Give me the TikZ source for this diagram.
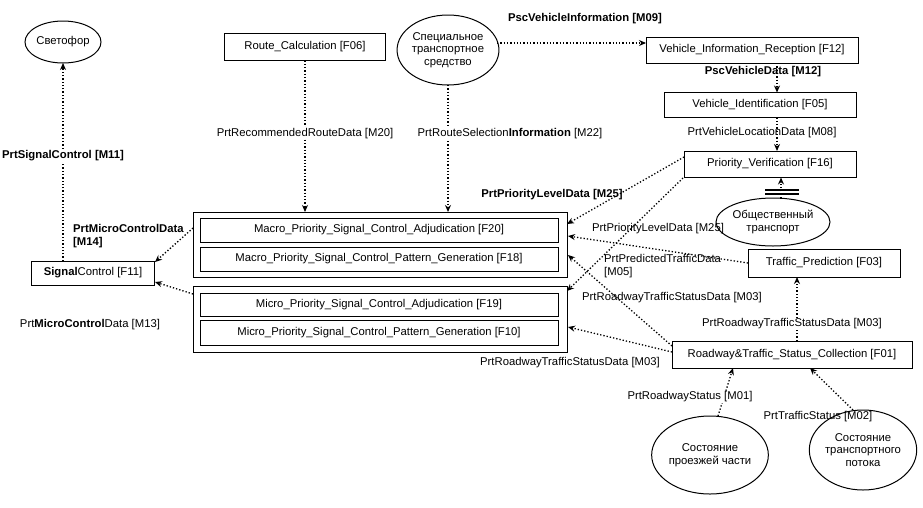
\documentclass[tikz,border=0pt]{standalone}
\usepackage{fontspec}
\setmainfont{Liberation Sans}
\usetikzlibrary{shapes.geometric,arrows.meta}
\begin{document}
\begin{tikzpicture}[x=1pt,y=-1pt,
  every node/.style={font=\fontsize{11.3}{12.5}\selectfont},
  box/.style={draw,line width=1pt,minimum height=25pt,inner sep=1pt},
  ell/.style={draw,line width=1pt,ellipse,align=center,inner sep=0pt},
  fl/.style={line width=1.3pt,dotted,-{Stealth[length=7pt,width=6pt]}},
  lab/.style={fill=white,inner sep=1pt},
  labn/.style={inner sep=1pt}]
\useasboundingbox (0,0) rectangle (923,507);
% nodes
\node[ell,minimum width=76pt,minimum height=42pt] (svet) at (63,42) {Светофор};
\node[box,minimum width=161pt,minimum height=27pt] (route) at (305,47) {Route\_Calculation [F06]};
\node[ell,minimum width=92pt,minimum height=70pt] (spec) at (448,50) {Специальное\\транспортное\\средство};
\node[box,minimum width=212pt,minimum height=26pt] (vir) at (752,50) {Vehicle\_Information\_Reception [F12]};
\node[box,minimum width=192pt] (vi) at (760,105) {Vehicle\_Identification [F05]};
\node[box,minimum width=172pt,minimum height=26pt] (pv) at (770,164) {Priority\_Verification [F16]};
\node[ell,minimum width=102pt,minimum height=48pt] (obs) at (773,222) {Общественный\\транспорт};
\node[draw,line width=1pt,minimum width=374pt,minimum height=65pt,inner sep=0] (macro) at (380,244.5) {};
\node[box,minimum width=358pt,minimum height=24pt] (f20) at (379,230) {Macro\_Priority\_Signal\_Control\_Adjudication [F20]};
\node[box,minimum width=358pt,minimum height=24pt] (f18) at (379,259) {Macro\_Priority\_Signal\_Control\_Pattern\_Generation [F18]};
\node[draw,line width=1pt,minimum width=374pt,minimum height=66pt,inner sep=0] (micro) at (380,319) {};
\node[box,minimum width=358pt,minimum height=23pt] (f19) at (379,304.5) {Micro\_Priority\_Signal\_Control\_Adjudication [F19]};
\node[box,minimum width=358pt,minimum height=25pt] (f10) at (379,332.5) {Micro\_Priority\_Signal\_Control\_Pattern\_Generation [F10]};
\node[box,minimum width=123pt,minimum height=24pt] (sc) at (93,273) {\textbf{Signal}Control [F11]};
\node[box,minimum width=152pt,minimum height=28pt] (tp) at (824,263) {Traffic\_Prediction [F03]};
\node[box,minimum width=240pt,minimum height=27pt] (rt) at (792,354.5) {Roadway\&Traffic\_Status\_Collection [F01]};
\node[ell,minimum width=88pt,minimum height=78pt] (e1) at (710,455) {Состояние\\проезжей части};
\node[ell,minimum width=90pt,minimum height=80pt] (e2) at (863,450) {Состояние\\транспортного\\потока};
% connectors
\coordinate (scT) at (63,261);
\coordinate (svB) at (63,63);
\draw[fl] (scT) -- (svB) node[lab,pos=0.53] {\textbf{PrtSignalControl [M11]}};
\coordinate (ma1) at (193,228);
\coordinate (sc1) at (155,262);
\draw[fl] (ma1) -- (sc1);
\node[labn,align=left,anchor=west] (l14) at (72,236) {\textbf{PrtMicroControlData}\\\textbf{[M14]}};
\coordinate (mi1) at (193,294);
\coordinate (sc2) at (155,282);
\draw[fl] (mi1) -- (sc2);
\node[labn] (l13) at (90,325) {Prt\textbf{MicroControl}Data [M13]};
\coordinate (rB) at (305,60.5);
\coordinate (maT1) at (305,212);
\draw[fl] (rB) -- (maT1) node[lab,pos=0.48] {PrtRecommendedRouteData [M20]};
\coordinate (sB) at (448,85);
\coordinate (maT2) at (448,212);
\draw[fl] (sB) -- (maT2) node[lab,pos=0.38,xshift=62pt] {PrtRouteSelection\textbf{Information} [M22]};
\coordinate (s1) at (497,43);
\coordinate (v1) at (646,43);
\draw[fl] (s1) -- (v1);
\node[labn] at (585,19) {\textbf{PscVehicleInformation [M09]}};
\coordinate (v2) at (777,63);
\coordinate (v3) at (777,92.5);
\draw[fl] (v2) -- (v3);
\node[labn] at (763,72) {\textbf{PscVehicleData [M12]}};
\coordinate (v4) at (777,117.5);
\coordinate (v5) at (777,151);
\draw[fl] (v4) -- (v5);
\node[labn] at (762,133) {PrtVehicleLocationData [M08]};
\coordinate (p1) at (684,157);
\coordinate (ma2) at (567,224);
\draw[fl] (p1) -- (ma2);
\node[labn] at (552,195) {\textbf{PrtPriorityLevelData [M25]}};
\coordinate (p2) at (683,178);
\coordinate (mi2) at (567,291);
\draw[fl] (p2) -- (mi2);
\node[labn] at (658,229) {PrtPriorityLevelData [M25]};
\coordinate (t1) at (748,263);
\coordinate (ma3) at (568,236);
\draw[fl] (t1) -- (ma3);
\node[labn,anchor=west,align=left] at (603,266) {PrtPredictedTrafficData\\{[M05]}};
\coordinate (r1) at (672,346);
\coordinate (ma4) at (568,255);
\draw[fl] (r1) -- (ma4);
\node[labn] at (672,298) {PrtRoadwayTrafficStatusData [M03]};
\coordinate (r2) at (672,352);
\coordinate (mi3) at (568,327);
\draw[fl] (r2) -- (mi3);
\node[labn] at (570,363) {PrtRoadwayTrafficStatusData [M03]};
\coordinate (r3) at (797,341);
\coordinate (t2) at (797,277);
\draw[fl] (r3) -- (t2);
\node[lab] at (792,324) {PrtRoadwayTrafficStatusData [M03]};
\coordinate (e1T) at (718,416);
\coordinate (r4) at (733,368);
\draw[fl] (e1T) -- (r4);
\node[lab] at (690,397) {PrtRoadwayStatus [M01]};
\coordinate (e2T) at (853,410);
\coordinate (r5) at (810,368);
\draw[fl] (e2T) -- (r5);
\node[labn] at (818,417) {PrtTrafficStatus [M02]};
\coordinate (o1) at (781,198);
\coordinate (pvB) at (781,177.5);
\draw[fl] (o1) -- (pvB);
\coordinate (bA) at (765,190);
\coordinate (bB) at (799,190);
\coordinate (bC) at (765,194);
\coordinate (bD) at (799,194);
\draw[line width=1.2pt] (bA) -- (bB) (bC) -- (bD);
\draw[line width=1.3pt,dotted] (o1) -- (obs.north -| o1);
\end{tikzpicture}
\end{document}
